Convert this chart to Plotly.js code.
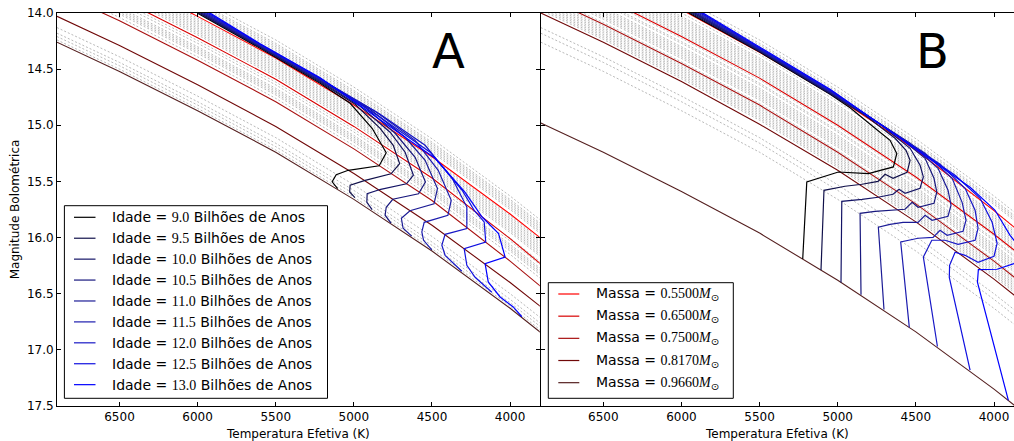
<!DOCTYPE html>
<html>
<head>
<meta charset="utf-8">
<script src="https://cdn.plot.ly/plotly-3.0.1.min.js"></script>
<style>html,body{margin:0;padding:0;background:#fff;}#chart{width:1014px;height:441px;}</style>
</head>
<body>
<div id="chart"></div>
<script>
// ---------------- DATA ----------------
// Effective temperature grid (K) for the cooling tracks
const teffGrid = [6900, 6500, 6000, 5500, 5000, 4500, 4000, 3800];

// Mass labels (solar masses)
const massLabels = ['0.5500', '0.6500', '0.7500', '0.8170', '0.9660'];

// Panel A cooling tracks: bolometric magnitude on teffGrid
const trackA_m0550 = [13.42, 13.68, 14.03, 14.40, 14.82, 15.28, 15.79, 16.01];
const trackA_m0650 = [13.61, 13.87, 14.22, 14.59, 15.01, 15.47, 16.01, 16.24];
const trackA_m0750 = [13.81, 14.07, 14.42, 14.79, 15.21, 15.67, 16.21, 16.44];
const trackA_m0817 = [14.03, 14.29, 14.64, 15.01, 15.43, 15.89, 16.40, 16.62];
const trackA_m0966 = [14.26, 14.52, 14.87, 15.24, 15.66, 16.12, 16.63, 16.85];

// Panel B cooling tracks
const trackB_m0550 = [13.36, 13.62, 13.97, 14.35, 14.76, 15.22, 15.76, 15.99];
const trackB_m0650 = [13.60, 13.86, 14.21, 14.58, 15.00, 15.46, 15.97, 16.19];
const trackB_m0750 = [13.84, 14.10, 14.45, 14.82, 15.24, 15.70, 16.21, 16.43];
const trackB_m0817 = [14.00, 14.26, 14.61, 14.99, 15.40, 15.86, 16.37, 16.59];
const trackB_m0966 = [14.98, 15.24, 15.59, 15.96, 16.38, 16.84, 17.35, 17.57];

// Intermediate (grey dashed) cooling tracks, panel A
const greyTracksA = [
  [13.26, 13.52, 13.87, 14.24, 14.66, 15.12, 15.63, 15.85],
  [13.29, 13.55, 13.90, 14.27, 14.69, 15.15, 15.66, 15.88],
  [13.305, 13.565, 13.915, 14.285, 14.705, 15.165, 15.675, 15.895],
  [13.32, 13.58, 13.93, 14.30, 14.72, 15.18, 15.69, 15.91],
  [13.335, 13.595, 13.945, 14.315, 14.735, 15.195, 15.705, 15.925],
  [13.35, 13.61, 13.96, 14.33, 14.75, 15.21, 15.72, 15.94],
  [13.365, 13.625, 13.975, 14.345, 14.765, 15.225, 15.735, 15.955],
  [13.38, 13.64, 13.99, 14.36, 14.78, 15.24, 15.75, 15.97],
  [13.435, 13.695, 14.045, 14.415, 14.835, 15.295, 15.805, 16.025],
  [13.45, 13.71, 14.06, 14.43, 14.85, 15.31, 15.82, 16.04],
  [13.465, 13.725, 14.075, 14.445, 14.865, 15.325, 15.835, 16.055],
  [13.48, 13.74, 14.09, 14.46, 14.88, 15.34, 15.85, 16.07],
  [13.495, 13.755, 14.105, 14.475, 14.895, 15.355, 15.865, 16.085],
  [13.51, 13.77, 14.12, 14.49, 14.91, 15.37, 15.88, 16.10],
  [13.525, 13.785, 14.135, 14.505, 14.925, 15.385, 15.895, 16.115],
  [13.54, 13.80, 14.15, 14.52, 14.94, 15.40, 15.91, 16.13],
  [13.555, 13.815, 14.165, 14.535, 14.955, 15.415, 15.925, 16.145],
  [13.57, 13.83, 14.18, 14.55, 14.97, 15.43, 15.94, 16.16],
  [13.585, 13.845, 14.195, 14.565, 14.985, 15.445, 15.955, 16.175],
  [13.635, 13.895, 14.245, 14.615, 15.035, 15.495, 16.005, 16.225],
  [13.66, 13.92, 14.27, 14.64, 15.06, 15.52, 16.03, 16.25],
  [13.69, 13.95, 14.30, 14.67, 15.09, 15.55, 16.06, 16.28],
  [13.705, 13.965, 14.315, 14.685, 15.105, 15.565, 16.075, 16.295],
  [13.72, 13.98, 14.33, 14.70, 15.12, 15.58, 16.09, 16.31],
  [13.735, 13.995, 14.345, 14.715, 15.135, 15.595, 16.105, 16.325],
  [13.75, 14.01, 14.36, 14.73, 15.15, 15.61, 16.12, 16.34],
  [13.78, 14.04, 14.39, 14.76, 15.18, 15.64, 16.15, 16.37],
  [14.13, 14.39, 14.74, 15.11, 15.53, 15.99, 16.50, 16.72],
  [14.18, 14.44, 14.79, 15.16, 15.58, 16.04, 16.55, 16.77],
  [14.21, 14.47, 14.82, 15.19, 15.61, 16.07, 16.58, 16.80],
  [14.24, 14.50, 14.85, 15.22, 15.64, 16.10, 16.61, 16.83]
];

// Intermediate (grey dashed) cooling tracks, panel B
const greyTracksB = [
  [13.26, 13.52, 13.87, 14.24, 14.66, 15.12, 15.63, 15.85],
  [13.29, 13.55, 13.90, 14.27, 14.69, 15.15, 15.66, 15.88],
  [13.305, 13.565, 13.915, 14.285, 14.705, 15.165, 15.675, 15.895],
  [13.32, 13.58, 13.93, 14.30, 14.72, 15.18, 15.69, 15.91],
  [13.335, 13.595, 13.945, 14.315, 14.735, 15.195, 15.705, 15.925],
  [13.39, 13.65, 14.00, 14.37, 14.79, 15.25, 15.76, 15.98],
  [13.42, 13.68, 14.03, 14.40, 14.82, 15.28, 15.79, 16.01],
  [13.435, 13.695, 14.045, 14.415, 14.835, 15.295, 15.805, 16.025],
  [13.45, 13.71, 14.06, 14.43, 14.85, 15.31, 15.82, 16.04],
  [13.465, 13.725, 14.075, 14.445, 14.865, 15.325, 15.835, 16.055],
  [13.48, 13.74, 14.09, 14.46, 14.88, 15.34, 15.85, 16.07],
  [13.495, 13.755, 14.105, 14.475, 14.895, 15.355, 15.865, 16.085],
  [13.51, 13.77, 14.12, 14.49, 14.91, 15.37, 15.88, 16.10],
  [13.525, 13.785, 14.135, 14.505, 14.925, 15.385, 15.895, 16.115],
  [13.54, 13.80, 14.15, 14.52, 14.94, 15.40, 15.91, 16.13],
  [13.555, 13.815, 14.165, 14.535, 14.955, 15.415, 15.925, 16.145],
  [13.57, 13.83, 14.18, 14.55, 14.97, 15.43, 15.94, 16.16],
  [13.585, 13.845, 14.195, 14.565, 14.985, 15.445, 15.955, 16.175],
  [13.615, 13.875, 14.225, 14.595, 15.015, 15.475, 15.985, 16.205],
  [13.645, 13.905, 14.255, 14.625, 15.045, 15.505, 16.015, 16.235],
  [13.66, 13.92, 14.27, 14.64, 15.06, 15.52, 16.03, 16.25],
  [13.69, 13.95, 14.30, 14.67, 15.09, 15.55, 16.06, 16.28],
  [13.705, 13.965, 14.315, 14.685, 15.105, 15.565, 16.075, 16.295],
  [13.72, 13.98, 14.33, 14.70, 15.12, 15.58, 16.09, 16.31],
  [13.735, 13.995, 14.345, 14.715, 15.135, 15.595, 16.105, 16.325],
  [13.75, 14.01, 14.36, 14.73, 15.15, 15.61, 16.12, 16.34],
  [13.765, 14.025, 14.375, 14.745, 15.165, 15.625, 16.135, 16.355],
  [13.78, 14.04, 14.39, 14.76, 15.18, 15.64, 16.15, 16.37],
  [13.795, 14.055, 14.405, 14.775, 15.195, 15.655, 16.165, 16.385],
  [13.825, 14.085, 14.435, 14.805, 15.225, 15.685, 16.195, 16.415],
  [13.855, 14.115, 14.465, 14.835, 15.255, 15.715, 16.225, 16.445],
  [13.87, 14.13, 14.48, 14.85, 15.27, 15.73, 16.24, 16.46],
  [13.885, 14.145, 14.495, 14.865, 15.285, 15.745, 16.255, 16.475],
  [13.90, 14.16, 14.51, 14.88, 15.30, 15.76, 16.27, 16.49],
  [13.915, 14.175, 14.525, 14.895, 15.315, 15.775, 16.285, 16.505],
  [13.93, 14.19, 14.54, 14.91, 15.33, 15.79, 16.30, 16.52],
  [13.945, 14.205, 14.555, 14.925, 15.345, 15.805, 16.315, 16.535],
  [13.96, 14.22, 14.57, 14.94, 15.36, 15.82, 16.33, 16.55],
  [13.975, 14.235, 14.585, 14.955, 15.375, 15.835, 16.345, 16.565],
  [14.13, 14.39, 14.74, 15.11, 15.53, 15.99, 16.50, 16.72],
  [14.18, 14.44, 14.79, 15.16, 15.58, 16.04, 16.55, 16.77],
  [14.26, 14.52, 14.87, 15.24, 15.66, 16.12, 16.63, 16.85]
];

// Ages (Gyr)
const ageLabels = ['9.0', '9.5', '10.0', '10.5', '11.0', '11.5', '12.0', '12.5', '13.0'];

// Panel A isochrones: Teff (K) and Mbol
const isoA_90_T  = [6003, 5600, 5216, 5024, 4883, 4793, 4838, 5036, 5113, 5139, 5104];
const isoA_90_M  = [14.000, 14.314, 14.626, 14.804, 15.027, 15.245, 15.361, 15.401, 15.441, 15.503, 15.565];
const isoA_95_T  = [5993, 5600, 5216, 4992, 4832, 4748, 4707, 4762, 4928, 5024, 5027, 4993];
const isoA_95_M  = [14.000, 14.305, 14.617, 14.813, 15.027, 15.178, 15.341, 15.432, 15.490, 15.534, 15.594, 15.644];
const isoA_100_T = [5982, 5600, 5216, 4960, 4768, 4672, 4619, 4663, 4828, 4915, 4917, 4883];
const isoA_100_M = [14.000, 14.301, 14.608, 14.831, 15.062, 15.240, 15.445, 15.521, 15.570, 15.610, 15.686, 15.752];
const isoA_105_T = [5972, 5600, 5216, 4928, 4736, 4608, 4542, 4586, 4751, 4793, 4800, 4762];
const isoA_105_M = [14.000, 14.297, 14.599, 14.840, 15.071, 15.285, 15.505, 15.610, 15.659, 15.730, 15.801, 15.871];
const isoA_110_T = [5962, 5600, 5216, 4896, 4672, 4544, 4465, 4487, 4641, 4696, 4685, 4630];
const isoA_110_M = [14.000, 14.292, 14.595, 14.858, 15.107, 15.312, 15.564, 15.699, 15.761, 15.828, 15.917, 15.987];
const isoA_115_T = [5952, 5600, 5216, 4864, 4608, 4460, 4377, 4398, 4550, 4565, 4554, 4501];
const isoA_115_M = [14.000, 14.288, 14.590, 14.875, 15.134, 15.401, 15.668, 15.801, 15.864, 15.950, 16.024, 16.109];
const isoA_120_T = [5941, 5600, 5216, 4832, 4544, 4371, 4277, 4277, 4416, 4437, 4416, 4309];
const isoA_120_M = [14.000, 14.283, 14.586, 14.902, 15.178, 15.472, 15.728, 15.920, 15.971, 16.068, 16.158, 16.300];
const isoA_125_T = [5931, 5600, 5216, 4832, 4512, 4307, 4230, 4166, 4156, 4294, 4277, 4224, 4117];
const isoA_125_M = [14.000, 14.279, 14.581, 14.929, 15.240, 15.579, 15.757, 15.861, 16.039, 16.098, 16.247, 16.354, 16.487];
const isoA_130_T = [5921, 5600, 5216, 4832, 4480, 4288, 4179, 4074, 4032, 4160, 4140, 4064, 3980, 3925];
const isoA_130_M = [14.000, 14.274, 14.577, 14.947, 15.294, 15.597, 15.817, 15.964, 16.173, 16.232, 16.395, 16.529, 16.618, 16.705];

// Panel B isochrones: Teff (K) and Mbol
const isoB_90_T  = [5952, 5497, 5049, 4921, 4761, 4665, 4622, 4644, 4804, 4996, 5198, 5224];
const isoB_90_M  = [14.000, 14.350, 14.724, 14.844, 15.027, 15.134, 15.252, 15.371, 15.430, 15.416, 15.505, 16.19];
const isoB_95_T  = [5939, 5497, 5049, 4825, 4633, 4563, 4537, 4556, 4646, 4697, 4742, 4844, 4953, 5088, 5107];
const isoB_95_M  = [14.000, 14.345, 14.718, 14.911, 15.116, 15.223, 15.312, 15.419, 15.472, 15.436, 15.499, 15.525, 15.543, 15.579, 16.29];
const isoB_100_T = [5926, 5497, 5049, 4729, 4537, 4473, 4452, 4473, 4569, 4608, 4646, 4742, 4844, 4974, 4979];
const isoB_100_M = [14.000, 14.339, 14.712, 14.991, 15.205, 15.356, 15.460, 15.561, 15.606, 15.570, 15.614, 15.641, 15.659, 15.677, 16.40];
const isoB_105_T = [5916, 5497, 5049, 4633, 4441, 4384, 4366, 4384, 4486, 4524, 4569, 4665, 4761, 4857, 4851];
const isoB_105_M = [14.000, 14.333, 14.707, 15.076, 15.294, 15.472, 15.594, 15.695, 15.730, 15.686, 15.748, 15.757, 15.766, 15.784, 16.51];
const isoB_110_T = [5907, 5497, 5049, 4537, 4358, 4294, 4275, 4294, 4396, 4441, 4486, 4582, 4665, 4740, 4704];
const isoB_110_M = [14.000, 14.328, 14.702, 15.160, 15.383, 15.579, 15.712, 15.810, 15.846, 15.801, 15.864, 15.864, 15.882, 15.908, 16.64];
const isoB_115_T = [5894, 5497, 5049, 4441, 4268, 4204, 4179, 4198, 4300, 4345, 4390, 4486, 4597, 4542];
const isoB_115_M = [14.000, 14.322, 14.696, 15.249, 15.472, 15.686, 15.846, 15.944, 15.980, 15.935, 15.998, 16.006, 16.039, 16.80];
const isoB_120_T = [5881, 5497, 5049, 4345, 4185, 4121, 4102, 4121, 4230, 4313, 4398, 4452, 4362];
const isoB_120_M = [14.000, 14.317, 14.691, 15.347, 15.561, 15.757, 15.917, 16.024, 16.060, 16.024, 16.024, 16.173, 16.97];
const isoB_125_T = [5872, 5497, 5049, 4249, 4089, 4012, 3980, 4000, 4102, 4185, 4249, 4284, 4286, 4153];
const isoB_125_M = [14.000, 14.311, 14.686, 15.445, 15.650, 15.864, 16.051, 16.167, 16.220, 16.158, 16.131, 16.247, 16.354, 17.18];
const isoB_130_T = [5862, 5497, 5049, 4153, 3993, 3897, 3820, 3872, 3980, 4100, 4106, 3908];
const isoB_130_M = [14.000, 14.305, 14.679, 15.552, 15.757, 15.980, 16.113, 16.232, 16.282, 16.285, 16.398, 17.45];

// Axis tick values
const xTicks = [6500, 6000, 5500, 5000, 4500, 4000];
const yTicks = [14.0, 14.5, 15.0, 15.5, 16.0, 16.5, 17.0, 17.5];

// ---------------- STYLES ----------------
const massColors = ['#ff0000', '#d80000', '#a81010', '#700808', '#552020'];
const ageColors = ['#000000', '#10104a', '#141466', '#18187e', '#1c1c96', '#1c1cae', '#1818c6', '#1010e0', '#0000ff'];
const greyStyle = {color: '#a6a6a6', width: 0.8, dash: '2px,2px'};

const tracksA = [trackA_m0550, trackA_m0650, trackA_m0750, trackA_m0817, trackA_m0966];
const tracksB = [trackB_m0550, trackB_m0650, trackB_m0750, trackB_m0817, trackB_m0966];
const isoA = [[isoA_90_T, isoA_90_M], [isoA_95_T, isoA_95_M], [isoA_100_T, isoA_100_M], [isoA_105_T, isoA_105_M],
              [isoA_110_T, isoA_110_M], [isoA_115_T, isoA_115_M], [isoA_120_T, isoA_120_M], [isoA_125_T, isoA_125_M],
              [isoA_130_T, isoA_130_M]];
const isoB = [[isoB_90_T, isoB_90_M], [isoB_95_T, isoB_95_M], [isoB_100_T, isoB_100_M], [isoB_105_T, isoB_105_M],
              [isoB_110_T, isoB_110_M], [isoB_115_T, isoB_115_M], [isoB_120_T, isoB_120_M], [isoB_125_T, isoB_125_M],
              [isoB_130_T, isoB_130_M]];

const SERIF = 'Liberation Serif';
const ageText = a => 'Idade = <span style="font-family:' + SERIF + '">' + a + '</span> Bilhões de Anos';
const massText = m => 'Massa = <span style="font-family:' + SERIF + '">' + m + '<i>M</i></span><sub>⊙</sub>';

const traces = [];
greyTracksA.forEach(m => traces.push({x: teffGrid, y: m, xaxis: 'x', yaxis: 'y', mode: 'lines',
  line: greyStyle, showlegend: false, hoverinfo: 'skip'}));
greyTracksB.forEach(m => traces.push({x: teffGrid, y: m, xaxis: 'x2', yaxis: 'y2', mode: 'lines',
  line: greyStyle, showlegend: false, hoverinfo: 'skip'}));
tracksA.forEach((m, i) => traces.push({x: teffGrid, y: m, xaxis: 'x', yaxis: 'y', mode: 'lines',
  line: {color: massColors[i], width: 1.1}, showlegend: false, name: 'Massa ' + massLabels[i]}));
tracksB.forEach((m, i) => traces.push({x: teffGrid, y: m, xaxis: 'x2', yaxis: 'y2', mode: 'lines',
  line: {color: massColors[i], width: 1.1}, showlegend: false, name: 'Massa ' + massLabels[i]}));
isoA.forEach((d, i) => traces.push({x: d[0], y: d[1], xaxis: 'x', yaxis: 'y', mode: 'lines',
  line: {color: ageColors[i], width: 1.2}, showlegend: false, name: 'Idade ' + ageLabels[i]}));
isoB.forEach((d, i) => traces.push({x: d[0], y: d[1], xaxis: 'x2', yaxis: 'y2', mode: 'lines',
  line: {color: ageColors[i], width: 1.2}, showlegend: false, name: 'Idade ' + ageLabels[i]}));

// ---------------- LAYOUT ----------------
const L = 57, T = 13, W = 1014, H = 441, B = 35;
const plotW = W - L, plotH = H - T - B;
const px = x => (x - L) / plotW;          // pixel -> paper x
const py = y => (T + plotH - y) / plotH;  // pixel -> paper y

const axCommon = {showgrid: false, zeroline: false, showline: true, linecolor: '#000', linewidth: 1,
  ticks: 'inside', ticklen: 4, tickwidth: 1, tickcolor: '#000', tickfont: {size: 12, family: 'DejaVu Sans', color: '#000'}};

const shapes = [];
const annotations = [];

// Legend A (ages)
shapes.push({type: 'rect', xref: 'paper', yref: 'paper', x0: px(64.4), x1: px(327.5), y0: py(398.3), y1: py(205.7),
  line: {color: '#000', width: 1}, fillcolor: '#fff', layer: 'above'});
ageLabels.forEach((a, i) => {
  const yc = 217.3 + i * 20.92;
  shapes.push({type: 'line', xref: 'paper', yref: 'paper', x0: px(74), x1: px(95.5), y0: py(yc), y1: py(yc),
    line: {color: ageColors[i], width: 1.2}, layer: 'above'});
  annotations.push({text: ageText(a), xref: 'paper', yref: 'paper', x: px(110), y: py(yc), xanchor: 'left',
    yanchor: 'middle', showarrow: false, font: {size: 14, family: 'DejaVu Sans', color: '#000'}});
});

// Legend B (masses)
shapes.push({type: 'rect', xref: 'paper', yref: 'paper', x0: px(548.3), x1: px(733.3), y0: py(398.3), y1: py(282.7),
  line: {color: '#000', width: 1}, fillcolor: '#fff', layer: 'above'});
massLabels.forEach((m, i) => {
  const yc = 294 + i * 22.17;
  shapes.push({type: 'line', xref: 'paper', yref: 'paper', x0: px(558.3), x1: px(579.3), y0: py(yc), y1: py(yc),
    line: {color: massColors[i], width: 1.2}, layer: 'above'});
  annotations.push({text: massText(m), xref: 'paper', yref: 'paper', x: px(594), y: py(yc), xanchor: 'left',
    yanchor: 'middle', showarrow: false, font: {size: 14, family: 'DejaVu Sans', color: '#000'}});
});

// Panel letters
annotations.push({text: 'A', xref: 'paper', yref: 'paper', x: px(448), y: py(51), showarrow: false,
  xanchor: 'center', yanchor: 'middle', font: {size: 48, family: 'DejaVu Sans', color: '#000'}});
annotations.push({text: 'B', xref: 'paper', yref: 'paper', x: px(932.5), y: py(51), showarrow: false,
  xanchor: 'center', yanchor: 'middle', font: {size: 48, family: 'DejaVu Sans', color: '#000'}});

const layout = {
  width: W, height: H,
  margin: {l: L, r: 0, t: T, b: B, pad: 0},
  paper_bgcolor: '#fff', plot_bgcolor: '#fff',
  font: {family: 'DejaVu Sans', size: 12, color: '#000'},
  showlegend: false,
  xaxis: Object.assign({}, axCommon, {domain: [0, px(539.8)], range: [6900, 3810], tickvals: xTicks,
    mirror: 'ticks', anchor: 'y',
    title: {text: 'Temperatura Efetiva (K)', font: {size: 12}, standoff: 6}}),
  yaxis: Object.assign({}, axCommon, {domain: [0, 1], range: [17.5, 14.0], tickvals: yTicks, tickformat: '.1f',
    mirror: 'ticks', anchor: 'x',
    title: {text: 'Magnitude Bolométrica', font: {size: 12}, standoff: 4}}),
  xaxis2: Object.assign({}, axCommon, {domain: [px(540.8), 1], range: [6900, 3872], tickvals: xTicks,
    mirror: 'ticks', anchor: 'y2',
    title: {text: 'Temperatura Efetiva (K)', font: {size: 12}, standoff: 6}}),
  yaxis2: Object.assign({}, axCommon, {domain: [0, 1], range: [17.5, 14.0], tickvals: yTicks,
    showticklabels: false, mirror: false, anchor: 'x2'}),
  shapes: shapes,
  annotations: annotations
};

Plotly.newPlot('chart', traces, layout, {displayModeBar: false, staticPlot: true});
</script>
</body>
</html>
